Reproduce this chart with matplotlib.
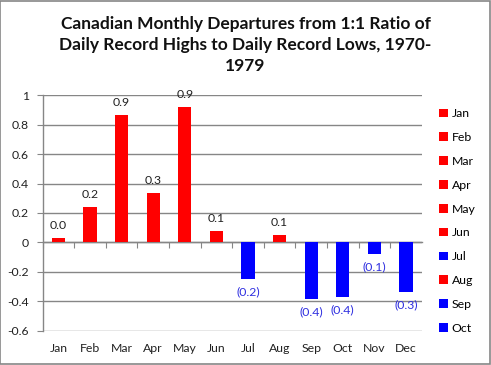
import matplotlib
matplotlib.use("Agg")
import matplotlib.pyplot as plt
from matplotlib.patches import Patch, Rectangle

months = ["Jan", "Feb", "Mar", "Apr", "May", "Jun", "Jul", "Aug", "Sep", "Oct", "Nov", "Dec"]
values = [0.03, 0.24, 0.868, 0.335, 0.922, 0.077, -0.25, 0.052, -0.386, -0.372, -0.08, -0.338]
labels = ["0.0", "0.2", "0.9", "0.3", "0.9", "0.1", "(0.2)", "0.1", "(0.4)", "(0.4)", "(0.1)", "(0.3)"]
yticks = [1, 0.8, 0.6, 0.4, 0.2, 0, -0.2, -0.4, -0.6]
ytick_labels = ["1", "0.8", "0.6", "0.4", "0.2", "0", "-0.2", "-0.4", "-0.6"]
legend_months = months[:10]
title = "Canadian Monthly Departures from 1:1 Ratio of\nDaily Record Highs to Daily Record Lows, 1970-\n1979"

RED = "#FF0000"
BLUE = "#0000FF"
GRID = "#868686"
colors = [RED if v >= 0 else BLUE for v in values]

plt.rcParams["font.family"] = ["Lato", "DejaVu Sans"]

fig = plt.figure(figsize=(4.91, 3.65), dpi=100)
fig.patches.append(Rectangle((0.001, 0.002), 0.997, 0.995, transform=fig.transFigure,
                             fill=False, edgecolor=GRID, linewidth=1.2))

ax = fig.add_axes([0.087, 0.094, 0.772, 0.645])
x = list(range(len(months)))
ax.bar(x, values, width=0.42, color=colors, zorder=3)
ax.set_xlim(-0.5, len(months) - 0.5)
ax.set_ylim(-0.6, 1.0)

ax.set_yticks(yticks)
ax.set_yticklabels(ytick_labels, fontsize=8.8, color="#222222")
ax.yaxis.grid(True, color=GRID, linewidth=1.0, zorder=0)
ax.tick_params(axis="y", direction="out", length=4, color=GRID, pad=6)

ax.set_xticks(x)
ax.set_xticklabels(months, fontsize=8.8, color="#222222")
ax.tick_params(axis="x", length=0, pad=9)

for s in ["top", "right", "bottom"]:
    ax.spines[s].set_visible(False)
ax.spines["left"].set_color(GRID)
ax.spines["left"].set_linewidth(1.0)

# axis line at zero with boundary tick marks
sec = ax.secondary_xaxis(0.375)
sec.set_xticks([i + 0.5 for i in x[:-1]] + [-0.5])
sec.set_xticklabels([])
sec.tick_params(direction="out", length=4, color=GRID)
sec.spines["bottom"].set_color(GRID)
sec.spines["bottom"].set_linewidth(1.0)

for xi, v, lab in zip(x, values, labels):
    if v >= 0:
        ax.annotate(lab, (xi, v), xytext=(0, 5), textcoords="offset points",
                    ha="center", va="bottom", fontsize=8.8, color="#222222")
    else:
        ax.annotate(lab, (xi, v), xytext=(0, -5), textcoords="offset points",
                    ha="center", va="top", fontsize=8.8, color="#3030E0")

fig.text(0.5, 0.957, title, ha="center", va="top", fontsize=12.5, fontweight="bold",
         linespacing=1.38, color="#111111")

handles = [Patch(facecolor=colors[i], edgecolor="none") for i in range(len(legend_months))]
fig.legend(handles, legend_months, loc="upper left", bbox_to_anchor=(0.885, 0.717),
           frameon=False, fontsize=8.8, labelspacing=1.05, handlelength=0.7,
           handleheight=0.7, handletextpad=0.3, borderaxespad=0)

fig.savefig("out.png", dpi=100)
